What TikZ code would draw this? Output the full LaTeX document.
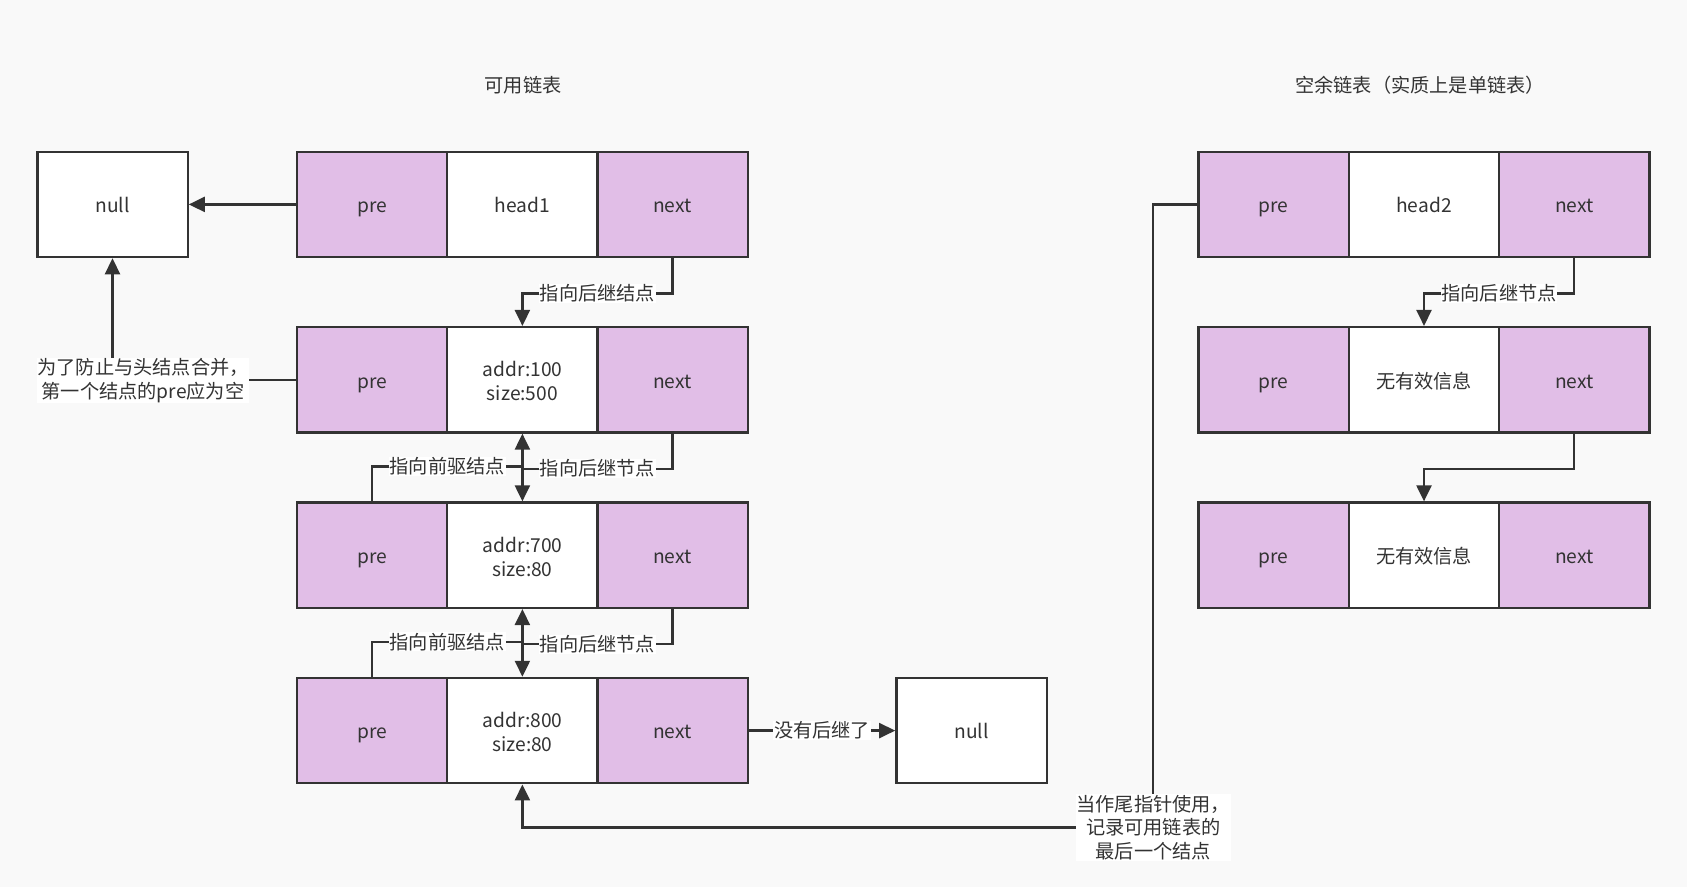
\documentclass[tikz,border=0pt]{standalone}
\usepackage{fontspec}
\setmainfont{Noto Sans CJK SC}
\usetikzlibrary{arrows.meta}
\definecolor{ink}{HTML}{333333}
\definecolor{lilac}{HTML}{E1BEE7}
\definecolor{paper}{HTML}{F9F9F9}

% two centred lines in the middle of a block
\newcommand\blocktext[2]{\raisebox{-1.2pt}[0pt][0pt]{\begin{tabular}{@{}c@{}}#1\\#2\end{tabular}}}

\begin{document}
\begin{tikzpicture}[x=1pt,y=-1pt,
  every node/.style={font=\fontsize{19.2}{23.7}\selectfont, text=ink},
  cell/.style={draw=ink, line width=2.3pt, minimum width=150.3pt,
               minimum height=105.4pt, inner sep=0pt, align=center,
               execute at begin node={\rule{0pt}{23.6pt}},
               execute at end node=\strut},
  ptr/.style={cell, fill=lilac},
  data/.style={cell, fill=white},
  pair/.style={data, execute at begin node={}, execute at end node={}},
  wire/.style={draw=ink, line width=2.3pt},
  link/.style={wire, -{Triangle[length=16pt,width=15pt]}},
  tag/.style={fill=white, inner sep=0.6pt, align=center}]

% canvas
\fill[paper] (0,0) rectangle (1687,887);
\useasboundingbox (0,0) rectangle (1687,887);

% headings
\node (t1) at (523,85) {可用链表};
\node (t2) at (1420,85) {空余链表（实质上是单链表）};

% available list: head node and three blocks
\node[ptr]  (h1p) at (372.2,204.4) {pre};
\node[data] (h1d) at (522.4,204.4) {head1};
\node[ptr]  (h1n) at (672.5,204.4) {next};

\node[ptr]  (a1p) at (372.2,379.8) {pre};
\node[pair] (a1d) at (522.4,379.8) {\blocktext{addr:100}{size:500}};
\node[ptr]  (a1n) at (672.5,379.8) {next};

\node[ptr]  (a2p) at (372.2,555.2) {pre};
\node[pair] (a2d) at (522.4,555.2) {\blocktext{addr:700}{size:80}};
\node[ptr]  (a2n) at (672.5,555.2) {next};

\node[ptr]  (a3p) at (372.2,730.6) {pre};
\node[pair] (a3d) at (522.4,730.6) {\blocktext{addr:800}{size:80}};
\node[ptr]  (a3n) at (672.5,730.6) {next};

% null ends
\node[data] (n1) at (112.5,204.4) {null};
\node[data] (n2) at (971.5,730.6) {null};

% free list
\node[ptr]  (h2p) at (1273.7,204.4) {pre};
\node[data] (h2d) at (1424.0,204.4) {head2};
\node[ptr]  (h2n) at (1574.3,204.4) {next};

\node[ptr]  (f1p) at (1273.7,379.8) {pre};
\node[data] (f1d) at (1424.0,379.8) {无有效信息};
\node[ptr]  (f1n) at (1574.3,379.8) {next};

\node[ptr]  (f2p) at (1273.7,555.2) {pre};
\node[data] (f2d) at (1424.0,555.2) {无有效信息};
\node[ptr]  (f2n) at (1574.3,555.2) {next};

% links of the available list
\draw[link] (h1p.west) -- (n1.east);
\draw[link] (a1p.west) -| (n1.south);
\node[tag] (note1) at (143,380.5) {为了防止与头结点合并，\\第一个结点的pre应为空};

\draw[link] (h1n.south) -- ++(0,35.2) -| node[tag,pos=0.25]{指向后继结点} (a1d.north);

\draw[link] (a1n.south) -- ++(0,35) -| node[tag,pos=0.25]{指向后继节点} (a2d.north);
\draw[link] (a2p.north) -- ++(0,-35) -| node[tag,pos=0.25]{指向前驱结点} (a1d.south);

\draw[link] (a2n.south) -- ++(0,35) -| node[tag,pos=0.25]{指向后继节点} (a3d.north);
\draw[link] (a3p.north) -- ++(0,-35) -| node[tag,pos=0.25]{指向前驱结点} (a2d.south);

\draw[link] (a3n.east) -- node[tag]{没有后继了} (n2.west);

% tail pointer kept in head2.pre
\draw[link] (h2p.west) -- ++(-44.2,0) -- ++(0,623)
  node[tag] (note2) {当作尾指针使用，\\记录可用链表的\\最后一个结点} -| (a3d.south);

% links of the free list
\draw[link] (h2n.south) -- ++(0,35.2) -| node[tag,pos=0.25]{指向后继节点} (f1d.north);
\draw[link] (f1n.south) -- ++(0,35) -| (f2d.north);

\end{tikzpicture}
\end{document}
